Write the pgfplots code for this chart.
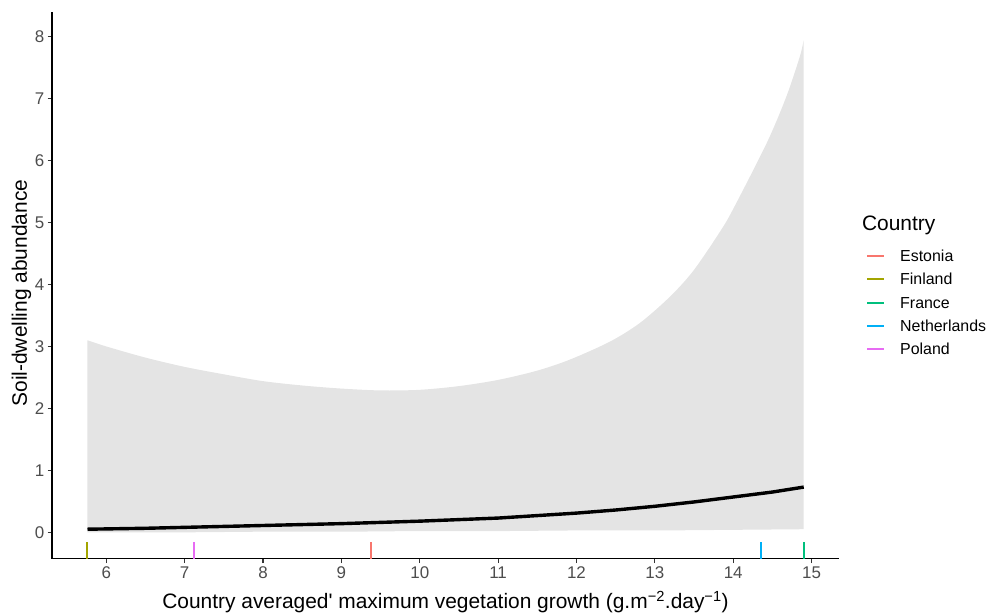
\documentclass[border=0pt]{standalone}
\usepackage{pgfplots}
\pgfplotsset{compat=1.18}
\usepgfplotslibrary{fillbetween}
\usepackage{fontspec}
\setmainfont{Liberation Sans}[Ligatures=TeXOff]
\definecolor{cEst}{HTML}{F8766D}
\definecolor{cFin}{HTML}{A3A500}
\definecolor{cFra}{HTML}{00BF7D}
\definecolor{cNet}{HTML}{00B0F6}
\definecolor{cPol}{HTML}{E76BF3}
\definecolor{ribbon}{HTML}{E4E4E4}
\definecolor{tickc}{HTML}{333333}
\definecolor{labc}{HTML}{4D4D4D}
\begin{document}
\begin{tikzpicture}
\begin{axis}[
  scale only axis, width=787bp, height=546.4bp,
  xmin=5.307, xmax=15.35, ymin=-0.426, ymax=8.394,
  axis lines=left,
  axis line style={-, line width=1.2bp, black},
  xtick={6,7,...,15}, ytick={0,1,...,8},
  tick align=outside, major tick length=4.3bp,
  tick style={line width=1.1bp, color=tickc},
  tick label style={font=\fontsize{17}{20}\selectfont, text=labc},
  /pgf/number format/assume math mode=true,
  xlabel={Country averaged' maximum vegetation growth (g.m\textsuperscript{−2}.day\textsuperscript{−1})},
  ylabel={Soil-dwelling abundance},
  label style={font=\fontsize{21}{25}\selectfont},
  xlabel style={at={(axis description cs:0.5,-0.092)}, anchor=base},
  ylabel style={at={(axis description cs:-0.0318,0.486)}, anchor=base},
  clip=false,
  legend style={at={(axis description cs:1.0343,0.5655)}, anchor=north west,
    draw=none, fill=none, inner sep=0pt,
    font=\fontsize{16}{19}\selectfont,
    nodes={inner sep=0pt, text height=11.5bp, text depth=3.5bp},
    row sep=8.3bp,
    /tikz/every odd column/.append style={column sep=15bp}},
  legend cell align=left,
  legend image code/.code={\draw[#1, line width=2bp] (0bp,1.5bp) -- (17bp,1.5bp);},
]
% confidence band
\addplot[name path=upper, draw=none, smooth, forget plot] coordinates {
 (5.76,3.10) (6.0,3.00) (6.5,2.82) (7.0,2.67) (7.5,2.55) (8.0,2.44)
 (8.5,2.37) (9.0,2.32) (9.5,2.29) (10.0,2.30) (10.5,2.36) (11.0,2.46)
 (11.5,2.61) (11.92,2.79) (12.43,3.08) (12.81,3.38) (13.19,3.80)
 (13.49,4.22) (13.83,4.85) (14.0,5.22) (14.43,6.29) (14.68,7.04)
 (14.85,7.68) (14.9,7.95)};
\addplot[name path=lower, draw=none, smooth, forget plot] coordinates {
 (5.76,0.00) (7.0,0.00) (8.0,0.01) (9.0,0.01) (10.0,0.02) (11.0,0.02)
 (12.0,0.03) (13.0,0.03) (14.0,0.04) (14.9,0.05)};
\addplot[fill=ribbon, draw=none, forget plot] fill between[of=upper and lower];
% fitted line
\addplot[black, line width=3.4bp, forget plot] coordinates {
 (5.76,0.05) (6.5,0.065) (7.0,0.08) (8.0,0.11) (9.0,0.14) (10.0,0.18)
 (11.0,0.23) (12.0,0.31) (12.5,0.36) (13.0,0.42) (13.5,0.49) (14.0,0.57)
 (14.5,0.65) (14.9,0.73)};
% rugs
\addplot[cEst, line width=2bp] coordinates {(9.38,-0.426) (9.38,-0.157)};
\addlegendentry{Estonia}
\addplot[cFin, line width=2bp] coordinates {(5.76,-0.426) (5.76,-0.157)};
\addlegendentry{Finland}
\addplot[cFra, line width=2bp] coordinates {(14.90,-0.426) (14.90,-0.157)};
\addlegendentry{France}
\addplot[cNet, line width=2bp] coordinates {(14.36,-0.426) (14.36,-0.157)};
\addlegendentry{Netherlands}
\addplot[cPol, line width=2bp] coordinates {(7.12,-0.426) (7.12,-0.157)};
\addlegendentry{Poland}
\node[anchor=west, inner sep=0pt, font=\fontsize{21}{25}\selectfont] at (axis description cs:1.029,0.6095) {Country};
\end{axis}
\pgfresetboundingbox
\useasboundingbox (-52bp,-56.3bp) rectangle (935bp,558.7bp);
\end{tikzpicture}
\end{document}
